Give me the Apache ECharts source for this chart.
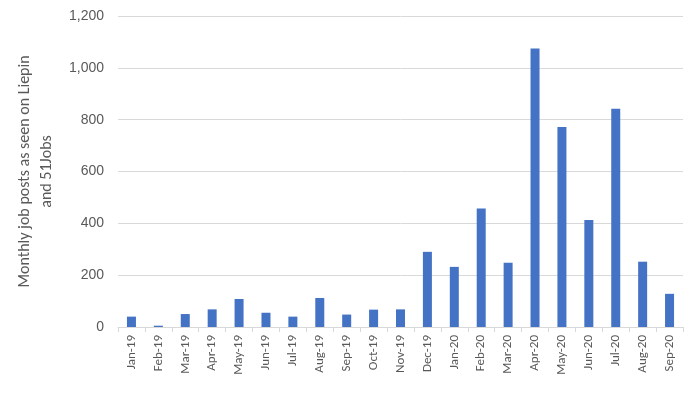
<!DOCTYPE html>
<html><head><meta charset="utf-8">
<script src="https://cdn.jsdelivr.net/npm/echarts@6/dist/echarts.min.js"></script>
<style>body{margin:0}#c{width:700px;height:402px}</style></head>
<body><div id="c"></div>
<script>
const categories=['Jan-19','Feb-19','Mar-19','Apr-19','May-19','Jun-19','Jul-19','Aug-19','Sep-19','Oct-19','Nov-19','Dec-19','Jan-20','Feb-20','Mar-20','Apr-20','May-20','Jun-20','Jul-20','Aug-20','Sep-20'];
const posts=[40,5,50,68,108,55,40,112,48,67,68,290,232,457,248,1075,772,413,842,252,128];
const yTicks=[0,200,400,600,800,1000,1200];
const chart=echarts.init(document.getElementById('c'));
chart.setOption({
 animation:false,
 grid:{left:118,right:17,top:16,bottom:75},
 xAxis:{type:'category',data:categories,
  axisLine:{lineStyle:{color:'#d9d9d9'}},axisTick:{show:true,lineStyle:{color:'#d9d9d9'}},
  axisLabel:{rotate:90,color:'#595959',fontSize:13,fontFamily:'Calibri, Carlito, Liberation Sans, sans-serif',interval:0}},
 yAxis:{type:'value',min:0,max:1200,interval:200,
  name:'Monthly job posts as seen on Liepin\nand 51Jobs',nameLocation:'middle',nameGap:50,
  nameTextStyle:{color:'#595959',fontSize:16,lineHeight:22,fontFamily:'Calibri, Carlito, Liberation Sans, sans-serif'},
  axisLabel:{color:'#595959',fontSize:14,margin:14,formatter:v=>yTicks.includes(v)?v.toLocaleString('en-US'):''},
  splitLine:{lineStyle:{color:'#d9d9d9'}}},
 series:[{type:'bar',data:posts,barWidth:9,itemStyle:{color:'#4472C4'}}]
});
</script></body></html>
